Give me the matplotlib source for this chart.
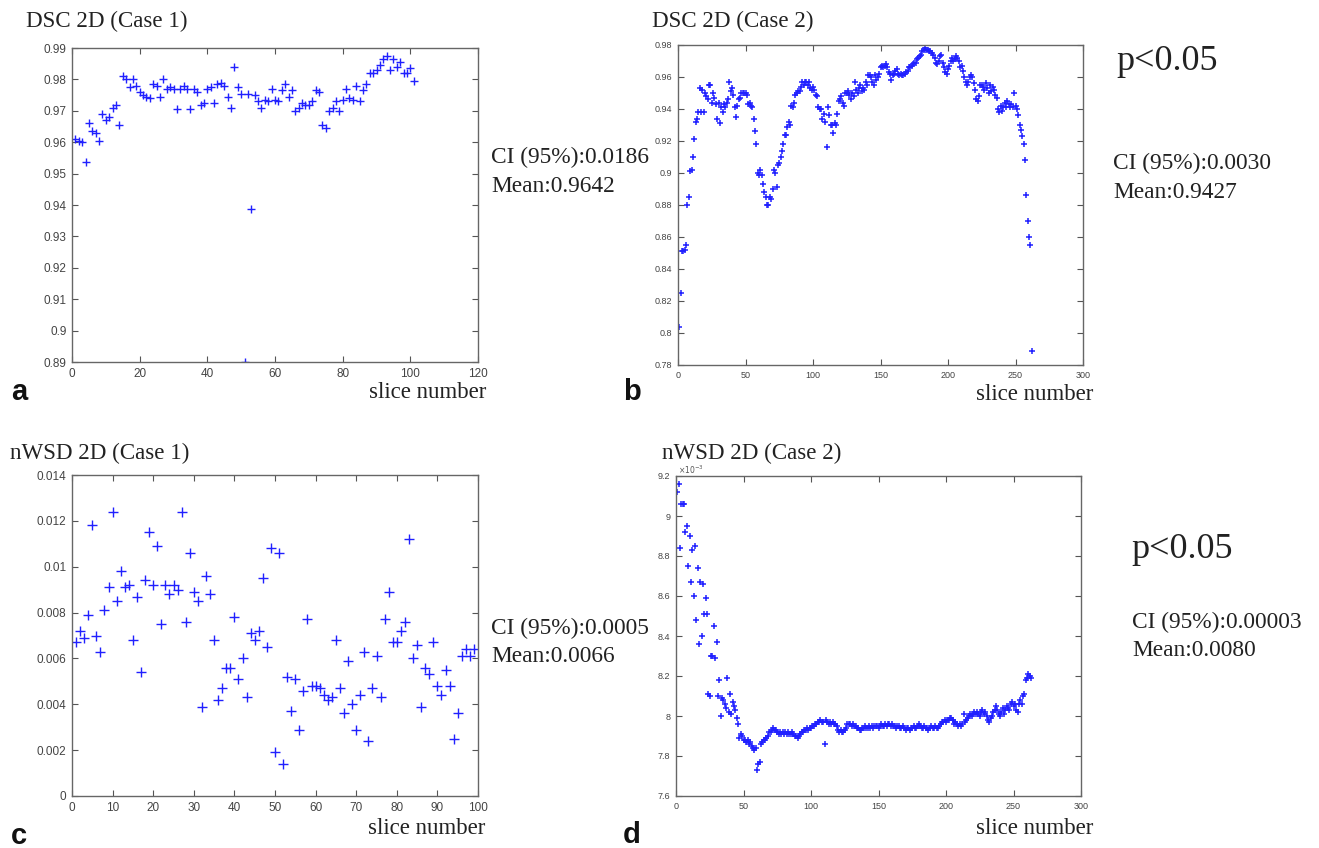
import numpy as np
import matplotlib
matplotlib.use("Agg")
import matplotlib.pyplot as plt
from matplotlib.ticker import FuncFormatter, MultipleLocator

# ---- data ----
dsc_case1 = [
    0.961, 0.9605, 0.960, 0.9537, 0.966, 0.9635, 0.963, 0.9605, 0.969, 0.967,
    0.968, 0.971, 0.972, 0.9655, 0.981, 0.980, 0.9775, 0.980, 0.978, 0.976,
    0.975, 0.9745, 0.974, 0.9785, 0.978, 0.9745, 0.980, 0.977, 0.9775, 0.977,
    0.9705, 0.977, 0.978, 0.977, 0.9705, 0.977, 0.976, 0.972, 0.9725, 0.977,
    0.9775, 0.9725, 0.9785, 0.979, 0.978, 0.9745, 0.971, 0.984, 0.9775, 0.9755,
    0.890, 0.9755, 0.9388, 0.975, 0.973, 0.971, 0.9735, 0.973, 0.977, 0.9735,
    0.973, 0.9765, 0.9785, 0.9745, 0.9765, 0.970, 0.971, 0.9725, 0.972, 0.972,
    0.973, 0.9765, 0.976, 0.9655, 0.9645, 0.970, 0.971, 0.973, 0.970, 0.9735,
    0.977, 0.974, 0.9735, 0.978, 0.973, 0.9765, 0.9785, 0.982, 0.982, 0.983,
    0.9845, 0.9865, 0.9875, 0.983, 0.9865, 0.984, 0.9855, 0.982, 0.982, 0.9835,
    0.9795,
]

dsc_case2 = [
    0.804, 0.825, 0.851, 0.851, 0.852, 0.855, 0.880, 0.885, 0.901, 0.902,
    0.910, 0.921, 0.932, 0.934, 0.938, 0.953, 0.938, 0.952, 0.938, 0.950,
    0.948, 0.946, 0.955, 0.955, 0.944, 0.950, 0.947, 0.943, 0.934, 0.944,
    0.931, 0.941, 0.938, 0.943, 0.941, 0.944, 0.946, 0.957, 0.951, 0.953,
    0.949, 0.941, 0.935, 0.942, 0.946, 0.947, 0.950, 0.950, 0.950, 0.950,
    0.949, 0.943, 0.944, 0.942, 0.941, 0.934, 0.926, 0.918, 0.900, 0.899,
    0.902, 0.899, 0.893, 0.888, 0.885, 0.880, 0.880, 0.885, 0.884, 0.890,
    0.902, 0.900, 0.891, 0.905, 0.906, 0.910, 0.914, 0.918, 0.924, 0.924,
    0.929, 0.932, 0.930, 0.942, 0.941, 0.944, 0.949, 0.950, 0.951, 0.951,
    0.954, 0.957, 0.955, 0.957, 0.957, 0.955, 0.957, 0.953, 0.952, 0.954,
    0.952, 0.949, 0.948, 0.941, 0.940, 0.940, 0.934, 0.937, 0.932, 0.916,
    0.941, 0.936, 0.930, 0.930, 0.925, 0.931, 0.930, 0.937, 0.945, 0.946,
    0.948, 0.944, 0.942, 0.950, 0.950, 0.951, 0.949, 0.946, 0.950, 0.948,
    0.957, 0.952, 0.950, 0.953, 0.955, 0.951, 0.953, 0.952, 0.957, 0.955,
    0.961, 0.961, 0.960, 0.957, 0.955, 0.961, 0.958, 0.960, 0.962, 0.966,
    0.967, 0.966, 0.967, 0.968, 0.966, 0.963, 0.962, 0.958, 0.961, 0.962,
    0.964, 0.965, 0.962, 0.961, 0.962, 0.961, 0.961, 0.962, 0.963, 0.964,
    0.966, 0.966, 0.967, 0.968, 0.969, 0.969, 0.971, 0.972, 0.973, 0.974,
    0.976, 0.977, 0.978, 0.977, 0.977, 0.976, 0.976, 0.975, 0.974, 0.972,
    0.969, 0.968, 0.970, 0.973, 0.974, 0.969, 0.966, 0.963, 0.962, 0.965,
    0.967, 0.970, 0.972, 0.970, 0.971, 0.973, 0.972, 0.970, 0.966, 0.967,
    0.964, 0.960, 0.957, 0.955, 0.957, 0.960, 0.961, 0.960, 0.956, 0.952,
    0.946, 0.945, 0.948, 0.955, 0.955, 0.954, 0.952, 0.956, 0.953, 0.950,
    0.955, 0.951, 0.954, 0.952, 0.949, 0.947, 0.940, 0.938, 0.942, 0.939,
    0.941, 0.944, 0.941, 0.945, 0.943, 0.941, 0.943, 0.941, 0.950, 0.942,
    0.940, 0.936, 0.930, 0.927, 0.923, 0.918, 0.908, 0.886, 0.870, 0.860,
    0.855, 0.789,
]

nwsd_case1 = [
    0.0067, 0.0072, 0.0069, 0.0079, 0.0118, 0.0070, 0.0063, 0.0081, 0.0091, 0.0124,
    0.0085, 0.0098, 0.0091, 0.0092, 0.0068, 0.0087, 0.0054, 0.0094, 0.0115, 0.0092,
    0.0109, 0.0075, 0.0092, 0.0088, 0.0092, 0.0090, 0.0124, 0.0076, 0.0106, 0.0089,
    0.0085, 0.0039, 0.0096, 0.0088, 0.0068, 0.0042, 0.0047, 0.0056, 0.0056, 0.0078,
    0.0051, 0.0060, 0.0043, 0.0071, 0.0068, 0.0072, 0.0095, 0.0065, 0.0108, 0.0019,
    0.0106, 0.0014, 0.0052, 0.0037, 0.0051, 0.0029, 0.0046, 0.0077, 0.0048, 0.0048,
    0.0047, 0.0044, 0.0042, 0.0043, 0.0068, 0.0047, 0.0036, 0.0059, 0.0040, 0.0029,
    0.0044, 0.0063, 0.0024, 0.0047, 0.0061, 0.0043, 0.0077, 0.0089, 0.0067, 0.0067,
    0.0072, 0.0076, 0.0112, 0.0060, 0.0066, 0.0039, 0.0056, 0.0053, 0.0067, 0.0048,
    0.0044, 0.0055, 0.0048, 0.0025, 0.0036, 0.0061, 0.0064, 0.0061, 0.0064,
]

# case 2 nWSD in units of 1e-3 (axis shows x10^-3)
nwsd_case2 = [
    9.12, 9.16, 8.84, 9.06, 9.06, 9.06, 8.92, 8.95, 8.75, 8.90,
    8.67, 8.83, 8.60, 8.85, 8.48, 8.74, 8.36, 8.67, 8.40, 8.66,
    8.51, 8.59, 8.51, 8.11, 8.10, 8.30, 8.30, 8.45, 8.29, 8.37,
    8.10, 8.18, 8.00, 8.09, 8.08, 8.06, 8.04, 8.19, 8.02, 8.11,
    8.01, 8.07, 8.05, 8.03, 7.99, 7.96, 7.89, 7.91, 7.90, 7.88,
    7.88, 7.87, 7.88, 7.86, 7.87, 7.85, 7.84, 7.83, 7.84, 7.73,
    7.76, 7.77, 7.86, 7.87, 7.88, 7.88, 7.89, 7.90, 7.92, 7.92,
    7.93, 7.94, 7.93, 7.93, 7.92, 7.91, 7.92, 7.91, 7.92, 7.91,
    7.92, 7.91, 7.92, 7.91, 7.91, 7.92, 7.91, 7.90, 7.90, 7.89,
    7.90, 7.91, 7.92, 7.92, 7.93, 7.93, 7.94, 7.93, 7.94, 7.94,
    7.95, 7.95, 7.96, 7.96, 7.97, 7.97, 7.98, 7.97, 7.97, 7.86,
    7.98, 7.97, 7.96, 7.97, 7.96, 7.97, 7.96, 7.96, 7.95, 7.93,
    7.92, 7.93, 7.92, 7.92, 7.93, 7.94, 7.96, 7.96, 7.96, 7.95,
    7.96, 7.95, 7.95, 7.94, 7.94, 7.93, 7.93, 7.94, 7.94, 7.95,
    7.94, 7.94, 7.95, 7.94, 7.95, 7.94, 7.95, 7.95, 7.95, 7.94,
    7.95, 7.96, 7.95, 7.95, 7.96, 7.95, 7.96, 7.96, 7.95, 7.96,
    7.95, 7.95, 7.94, 7.95, 7.95, 7.94, 7.94, 7.95, 7.94, 7.93,
    7.94, 7.94, 7.93, 7.94, 7.94, 7.95, 7.94, 7.94, 7.95, 7.96,
    7.95, 7.94, 7.94, 7.95, 7.94, 7.94, 7.93, 7.94, 7.95, 7.94,
    7.94, 7.95, 7.94, 7.94, 7.95, 7.96, 7.97, 7.97, 7.98, 7.97,
    7.98, 7.98, 7.99, 7.99, 7.98, 7.96, 7.97, 7.96, 7.95, 7.96,
    7.95, 7.96, 8.01, 7.97, 7.98, 7.99, 8.00, 8.01, 8.00, 8.01,
    8.02, 8.01, 8.02, 8.01, 8.00, 8.02, 8.03, 8.01, 8.02, 8.00,
    7.98, 7.97, 7.99, 8.00, 8.02, 8.03, 8.05, 8.03, 8.01, 8.00,
    8.02, 8.04, 8.01, 8.03, 8.05, 8.04, 8.03, 8.06, 8.07, 8.05,
    8.06, 8.03, 8.02, 8.06, 8.08, 8.06, 8.10, 8.11, 8.18, 8.19,
    8.21, 8.20, 8.19,
]

titles = ["DSC 2D (Case 1)", "DSC 2D (Case 2)", "nWSD 2D (Case 1)", "nWSD 2D (Case 2)"]
stats = [("CI (95%):0.0186", "Mean:0.9642"), ("CI (95%):0.0030", "Mean:0.9427"),
         ("CI (95%):0.0005", "Mean:0.0066"), ("CI (95%):0.00003", "Mean:0.0080")]
panel_letters = ["a", "b", "c", "d"]

W, H = 1319, 848
fig = plt.figure(figsize=(W / 100, H / 100), dpi=100)
SERIF = ["Liberation Serif", "DejaVu Serif"]
SANS = ["Liberation Sans", "DejaVu Sans"]
BLUE = "#2020ff"


def px(x, y):
    return x / W, 1 - y / H


def axes_px(l, t, r, b):
    x0, y1 = px(l, t)
    x1, y0 = px(r, b)
    return fig.add_axes([x0, y0, x1 - x0, y1 - y0])


def style(ax, fs, xlim, xstep, ylim, ystep, pad=4):
    ax.set_xlim(*xlim)
    ax.set_ylim(*ylim)
    ax.xaxis.set_major_locator(MultipleLocator(xstep))
    ax.yaxis.set_major_locator(MultipleLocator(ystep))
    ax.yaxis.set_major_formatter(FuncFormatter(lambda v, p: "%g" % round(v, 6)))
    ax.xaxis.set_major_formatter(FuncFormatter(lambda v, p: "%g" % v))
    ax.tick_params(direction="in", top=True, right=True, length=4, width=0.8,
                   colors="#555555", labelsize=fs, labelcolor="#444444", pad=pad)
    for lab in ax.get_xticklabels() + ax.get_yticklabels():
        lab.set_family(SANS)
    for s in ax.spines.values():
        s.set_color("#666666")
        s.set_linewidth(1.0)


# panel a
ax_a = axes_px(72, 48, 478, 362)
ax_a.plot(np.arange(1, len(dsc_case1) + 1), dsc_case1, "+", color=BLUE, ms=6, mew=1.0)
style(ax_a, 8.5, (0, 120), 20, (0.89, 0.99), 0.01)

# panel b
ax_b = axes_px(678, 45, 1083, 365)
ax_b.plot(np.arange(1, len(dsc_case2) + 1), dsc_case2, "+", color=BLUE, ms=4.5, mew=1.1)
style(ax_b, 6.5, (0, 300), 50, (0.78, 0.98), 0.02)

# panel c
ax_c = axes_px(72, 475, 478, 796)
ax_c.plot(np.arange(1, len(nwsd_case1) + 1), nwsd_case1, "+", color=BLUE, ms=6.5, mew=1.0)
style(ax_c, 8.5, (0, 100), 10, (0, 0.014), 0.002)

# panel d
ax_d = axes_px(676, 476, 1081, 796)
ax_d.plot(np.arange(1, len(nwsd_case2) + 1), nwsd_case2, "+", color=BLUE, ms=4.5, mew=1.1)
style(ax_d, 6.5, (0, 300), 50, (7.6, 9.2), 0.2)
fig.text(*px(678, 470), r"$\times10^{-3}$", fontsize=5.5, color="#555555",
         family=SANS, va="center", ha="left")

# titles, panel letters and axis names
title_pos = [(26, 21), (652, 21), (10, 453), (662, 453)]
letter_pos = [(11, 392), (623, 392), (11, 836), (623, 835)]
xlabel_pos = [(486, 393), (1093, 395), (485, 829), (1093, 829)]
for t, tp, l, lp, xp in zip(titles, title_pos, panel_letters, letter_pos, xlabel_pos):
    fig.text(*px(*tp), t, fontsize=16.6, family=SERIF, color="#222222", va="center", ha="left")
    fig.text(*px(*lp), l, fontsize=21, weight="bold", family=SANS, color="#111111",
             va="center", ha="left")
    fig.text(*px(*xp), "slice number", fontsize=16.5, family=SERIF, color="#222222",
             va="center", ha="right")

# statistics text
stat_pos = [(491, 157, 186), (1113, 163, 192), (491, 628, 656), (1132, 622, 650)]
for (ci, mean), (x, y1, y2) in zip(stats, stat_pos):
    fig.text(*px(x, y1), ci, fontsize=16.8, family=SERIF, color="#222222", va="center")
    fig.text(*px(x, y2), mean, fontsize=16.8, family=SERIF, color="#222222", va="center")

fig.text(*px(1116, 62), "p<0.05", fontsize=26, family=SERIF, color="#222222", va="center")
fig.text(*px(1131, 550), "p<0.05", fontsize=26, family=SERIF, color="#222222", va="center")

fig.savefig("out.png", dpi=100)
